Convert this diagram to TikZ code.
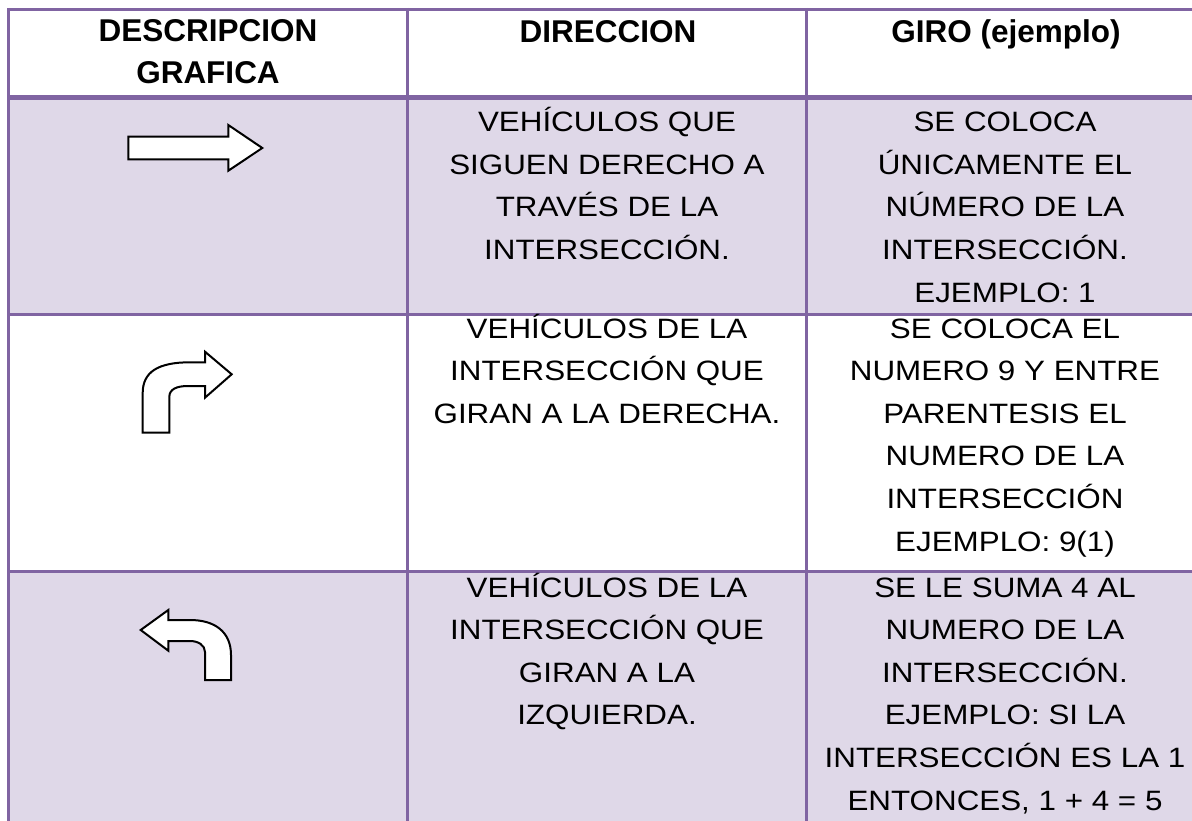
\documentclass[tikz,border=0pt]{standalone}
\usepackage{fontspec}
\setmainfont[FakeStretch=1.12]{Liberation Sans}
\newfontfamily\headfont{Liberation Sans}
\usepackage{xcolor}
\usetikzlibrary{positioning}
\definecolor{gridline}{HTML}{8064A2}
\definecolor{rowfill}{HTML}{DFD8E8}
\newcommand{\celltext}[1]{\begin{tabular}[t]{@{}c@{}}#1\end{tabular}}

\begin{document}
\begin{tikzpicture}[x=1pt, y=-1pt,
    cell/.style={font=\fontsize{28}{42.6}\selectfont, anchor=base, inner sep=0pt},
    head/.style={cell, font=\headfont\fontsize{31.5}{41.5}\selectfont\bfseries},
    sign/.style={draw=black, line width=2pt, fill=white, line join=miter}]
  \useasboundingbox (0,0) rectangle (1192,821);
  \clip (0,0) rectangle (1192,821);

  % Row shading
  \fill[rowfill] (8.5,98) rectangle (1215,314);
  \fill[rowfill] (8.5,571.5) rectangle (1215,830);

  % Grid lines
  \draw[gridline, line width=3pt] (7,9.5) -- (1215,9.5);
  \draw[gridline, line width=5.5pt] (7,97.5) -- (1215,97.5);
  \foreach \y in {314,571.5} {
    \draw[gridline, line width=3pt] (7,\y) -- (1215,\y);
  }
  \foreach \x in {8.5,407.5,806.5} {
    \draw[gridline, line width=3pt] (\x,8) -- (\x,830);
  }

  % Header
  \node[head] (hdesc) at (208,42) {\celltext{DESCRIPCION\\GRAFICA}};
  \node[head] (hdir) at (608,42.5) {\celltext{DIRECCION}};
  \node[head] (hgiro) at (1006,43) {\celltext{GIRO (ejemplo)}};

  % Row 1 - straight on
  \draw[sign] (128.3,136.7) -- (228.3,136.7) -- (228.3,125) -- (262.3,148) -- (228.3,170.7) -- (228.3,159.3) -- (128.3,159.3) -- cycle;
  \node[cell] (dir1) at (607,131.7) {\celltext{VEHÍCULOS QUE\\SIGUEN DERECHO A\\TRAVÉS DE LA\\INTERSECCIÓN.}};
  \node[cell] (giro1) at (1005,131.7) {\celltext{SE COLOCA\\ÚNICAMENTE EL\\NÚMERO DE LA\\INTERSECCIÓN.\\EJEMPLO: 1}};

  % Row 2 - right turn
  \draw[sign] (142.7,432.7) -- (142.7,393) .. controls (142.7,372) and (158,362.3) .. (190,362.3) -- (205,362.3) -- (205,351.7) -- (231.7,374.3) -- (205,397.7) -- (205,386) -- (188,386) .. controls (177,386) and (169.3,389) .. (169.3,397) -- (169.3,432.7) -- cycle;
  \node[cell] (dir2) at (607,338) {\celltext{VEHÍCULOS DE LA\\INTERSECCIÓN QUE\\GIRAN A LA DERECHA.}};
  \node[cell] (giro2) at (1005,338) {\celltext{SE COLOCA EL\\NUMERO 9 Y ENTRE\\PARENTESIS EL\\NUMERO DE LA\\INTERSECCIÓN\\EJEMPLO: 9(1)}};

  % Row 3 - left turn
  \draw[sign] (140.7,630) -- (168.3,610) -- (168.3,620) -- (190,620) .. controls (215,620) and (231,632) .. (231,655) -- (231,680) -- (205,680) -- (205,652) .. controls (205,645) and (198,641) .. (190,641) -- (168.3,641) -- (168.3,650.7) -- cycle;
  \node[cell] (dir3) at (607,597) {\celltext{VEHÍCULOS DE LA\\INTERSECCIÓN QUE\\GIRAN A LA\\IZQUIERDA.}};
  \node[cell] (giro3) at (1005,597) {\celltext{SE LE SUMA 4 AL\\NUMERO DE LA\\INTERSECCIÓN.\\EJEMPLO: SI LA\\INTERSECCIÓN ES LA 1\\ENTONCES, 1 + 4 = 5}};
\end{tikzpicture}
\end{document}
